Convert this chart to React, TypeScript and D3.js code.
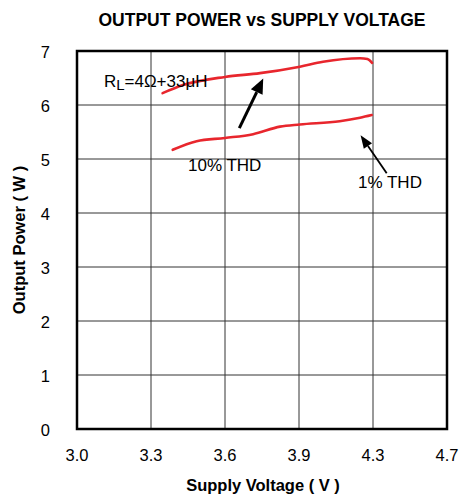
import React from 'react';
import * as d3 from 'd3';

// supply voltage ticks (axis is evenly spaced even though 4.3 breaks the step)
const xTicks = [3.0, 3.3, 3.6, 3.9, 4.3, 4.7];
const xTickLabels = ['3.0', '3.3', '3.6', '3.9', '4.3', '4.7'];
const yTicks = [0, 1, 2, 3, 4, 5, 6, 7];

// 10% THD curve (upper)
const thd10Voltage = [3.347, 3.43, 3.6, 3.742, 3.905, 4.03, 4.23, 4.27, 4.295];
const thd10Power = [6.22, 6.37, 6.52, 6.59, 6.71, 6.8, 6.865, 6.85, 6.78];

// 1% THD curve (lower)
const thd1Voltage = [3.388, 3.485, 3.6, 3.714, 3.823, 3.905, 4.12, 4.23, 4.293];
const thd1Power = [5.17, 5.33, 5.39, 5.46, 5.6, 5.64, 5.7, 5.765, 5.815];

const W = 465;
const H = 498;
const margin = { top: 51, right: 18, bottom: 69, left: 77 };
const font = '"Liberation Sans", Arial, sans-serif';
const red = '#e8262d';

const App: React.FC = () => {
  const x0 = margin.left;
  const x1 = W - margin.right;
  const step = (x1 - x0) / (xTicks.length - 1);
  const x = d3
    .scaleLinear()
    .domain(xTicks)
    .range(xTicks.map((_, i) => x0 + i * step));
  const y = d3
    .scaleLinear()
    .domain([0, 7])
    .range([H - margin.bottom, margin.top]);

  const line = d3
    .line<[number, number]>()
    .x(d => x(d[0]))
    .y(d => y(d[1]))
    .curve(d3.curveMonotoneX);

  const upper = line(thd10Voltage.map((v, i) => [v, thd10Power[i]]))!;
  const lower = line(thd1Voltage.map((v, i) => [v, thd1Power[i]]))!;

  const arrow = (
    from: [number, number],
    to: [number, number],
    lw: number,
    headLen: number,
    headW: number
  ) => {
    const ax = x(from[0]);
    const ay = y(from[1]);
    const bx = x(to[0]);
    const by = y(to[1]);
    const ang = Math.atan2(by - ay, bx - ax);
    const cx = bx - headLen * Math.cos(ang);
    const cy = by - headLen * Math.sin(ang);
    const px = (headW / 2) * Math.sin(ang);
    const py = (headW / 2) * -Math.cos(ang);
    return (
      <g>
        <line x1={ax} y1={ay} x2={cx} y2={cy} stroke="#000" strokeWidth={lw} />
        <polygon
          points={`${bx},${by} ${cx + px},${cy + py} ${cx - px},${cy - py}`}
          fill="#000"
        />
      </g>
    );
  };

  return (
    <svg
      width={W}
      height={H}
      style={{ position: 'absolute', left: 0, top: 0, background: '#fff' }}
      fontFamily={font}
    >
      <text x={262} y={26} textAnchor="middle" fontSize={17.5} fontWeight="bold">
        OUTPUT POWER vs SUPPLY VOLTAGE
      </text>

      {/* grid */}
      {xTicks.slice(1, -1).map(t => (
        <line key={'vx' + t} x1={x(t)} x2={x(t)} y1={y(0)} y2={y(7)} stroke="#333" strokeWidth={1} />
      ))}
      {yTicks.slice(1, -1).map(t => (
        <line key={'hy' + t} x1={x0} x2={x1} y1={y(t)} y2={y(t)} stroke="#333" strokeWidth={1} />
      ))}
      <rect x={x0} y={y(7)} width={x1 - x0} height={y(0) - y(7)} fill="none" stroke="#000" strokeWidth={2.5} />

      {/* tick labels */}
      {yTicks.map(t => (
        <text key={'yl' + t} x={50} y={y(t) + 6.5} textAnchor="end" fontSize={16.5}>
          {t}
        </text>
      ))}
      {xTicks.map((t, i) => (
        <text key={'xl' + t} x={x(t)} y={461} textAnchor="middle" fontSize={16.5}>
          {xTickLabels[i]}
        </text>
      ))}

      <text x={263} y={491} textAnchor="middle" fontSize={16.5} fontWeight="bold">
        Supply Voltage ( V )
      </text>
      <text
        transform={`translate(25,${(y(0) + y(7)) / 2}) rotate(-90)`}
        textAnchor="middle"
        fontSize={16.5}
        fontWeight="bold"
      >
        Output Power ( W )
      </text>

      {/* curves */}
      <path d={upper} fill="none" stroke={red} strokeWidth={2.6} strokeLinecap="round" />
      <path d={lower} fill="none" stroke={red} strokeWidth={2.6} strokeLinecap="round" />

      {/* annotations */}
      <text x={x(3.109)} y={y(6.33)} fontSize={17}>
        R
        <tspan fontSize={15} dy={3}>L</tspan>
        <tspan dy={-3}>=4Ω+33μH</tspan>
      </text>
      <text x={x(3.45)} y={y(4.78)} fontSize={17}>
        10% THD
      </text>
      <text x={x(4.219)} y={y(4.463)} fontSize={17}>
        1% THD
      </text>
      {arrow([3.658, 5.57], [3.755, 6.49], 3, 15, 13)}
      {arrow([4.374, 4.735], [4.233, 5.44], 1.8, 13, 10)}
    </svg>
  );
};

export default App;
